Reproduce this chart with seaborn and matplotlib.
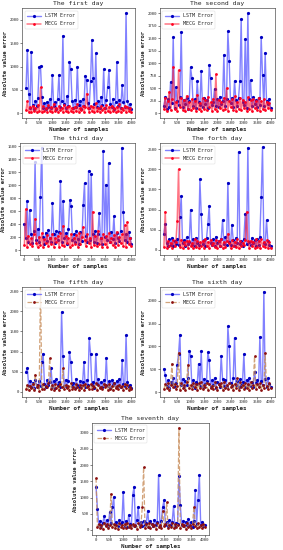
"""Erreurs absolues LSTM vs MECG sur sept jours."""
import matplotlib
matplotlib.use("Agg")
import matplotlib.pyplot as plt
import seaborn as sns
import pandas as pd

sns.set_style("ticks")
plt.rcParams["font.family"] = ["DejaVu Sans Mono", "DejaVu Sans"]

SAMPLES = list(range(0, 4001, 50))
TITLES = ["The first day", "The second day", "The third day", "The forth day",
          "The fifth day", "The sixth day", "The seventh day"]

lstm_d1 = [530, 1360, 420, 120, 1320, 180, 90, 260, 150, 330,
           990, 1010, 350, 120, 210, 80, 240, 130, 300, 110,
           820, 160, 240, 90, 310, 820, 140, 260, 1660, 200,
           120, 360, 150, 1100, 940, 260, 100, 290, 140, 990,
           180, 250, 90, 300, 160, 800, 700, 210, 120, 680,
           1570, 750, 190, 1280, 140, 260, 100, 350, 180, 940,
           120, 280, 550, 920, 200, 130, 310, 90, 240, 1100,
           160, 280, 110, 600, 230, 140, 2140, 260, 120, 200, 90]
mecg_d1 = [60, 250, 30, 140, 20, 160, 40, 120, 30, 180,
           50, 550, 20, 150, 40, 110, 30, 170, 50, 130,
           20, 200, 40, 120, 30, 150, 60, 110, 20, 180,
           40, 130, 30, 160, 50, 120, 20, 140, 40, 190,
           30, 110, 60, 150, 20, 130, 420, 120, 30, 160,
           50, 140, 20, 210, 40, 120, 30, 150, 60, 110,
           20, 170, 40, 130, 30, 160, 50, 120, 20, 140,
           40, 190, 30, 110, 60, 150, 20, 130, 40, 120, 30]

lstm_d2 = [150, 320, 90, 280, 130, 630, 200, 1520, 110, 520,
           240, 160, 330, 1620, 120, 260, 180, 300, 90, 240,
           920, 700, 150, 280, 110, 640, 230, 170, 840, 120,
           300, 190, 260, 110, 970, 700, 160, 230, 490, 140,
           280, 120, 330, 180, 250, 1170, 150, 290, 1640, 1050,
           200, 310, 120, 650, 260, 140, 300, 650, 1880, 230,
           170, 1480, 110, 2000, 280, 660, 150, 320, 190, 260,
           120, 300, 170, 1520, 760, 140, 1210, 250, 180, 290, 110]
mecg_d2 = [80, 310, 40, 250, 430, 60, 280, 920, 90, 230,
           50, 860, 120, 300, 70, 260, 40, 350, 90, 220,
           60, 280, 110, 240, 50, 370, 80, 210, 40, 300,
           90, 260, 60, 330, 120, 220, 50, 290, 80, 780,
           40, 270, 100, 230, 60, 310, 90, 500, 50, 250,
           120, 280, 70, 340, 40, 230, 90, 300, 60, 270,
           110, 220, 50, 320, 80, 260, 40, 290, 100, 240,
           70, 310, 50, 250, 90, 280, 60, 230, 110, 200, 60]

lstm_d3 = [400, 180, 760, 130, 610, 240, 110, 290, 1360, 150,
           320, 120, 820, 1580, 200, 90, 270, 140, 310, 180,
           130, 720, 240, 110, 300, 160, 280, 1060, 120, 750,
           190, 260, 100, 330, 770, 680, 150, 240, 120, 300,
           170, 90, 280, 140, 690, 1030, 210, 120, 1220, 160,
           1170, 250, 130, 300, 110, 240, 570, 180, 90, 1520,
           200, 1010, 150, 1340, 120, 280, 170, 520, 110, 260,
           190, 140, 300, 1580, 590, 160, 240, 120, 280, 190, 100]
mecg_d3 = [70, 630, 40, 220, 90, 180, 60, 250, 480, 110,
           40, 200, 80, 260, 50, 170, 110, 230, 60, 190,
           90, 240, 50, 180, 120, 210, 40, 260, 80, 370,
           60, 220, 110, 190, 40, 250, 70, 180, 100, 230,
           50, 270, 90, 200, 350, 160, 60, 240, 110, 190,
           40, 590, 80, 220, 60, 300, 100, 180, 50, 240,
           90, 210, 40, 260, 120, 190, 70, 230, 50, 280,
           80, 200, 110, 240, 60, 380, 40, 430, 90, 190, 60]

lstm_d4 = [400, 650, 180, 110, 260, 130, 300, 90, 220, 150,
           280, 120, 820, 1330, 160, 240, 100, 310, 140, 200,
           1000, 130, 260, 90, 300, 170, 120, 1750, 900, 150,
           240, 110, 290, 650, 1100, 180, 130, 270, 100, 330,
           160, 220, 90, 280, 740, 140, 310, 120, 1670, 200,
           130, 630, 250, 110, 290, 170, 2430, 150, 220, 100,
           280, 900, 140, 2530, 190, 120, 300, 160, 240, 110,
           270, 130, 320, 1300, 2550, 180, 140, 740, 210, 120, 90]
mecg_d4 = [80, 950, 50, 220, 110, 180, 60, 240, 90, 200,
           720, 2000, 70, 250, 40, 190, 120, 230, 60, 210,
           100, 170, 50, 260, 80, 220, 40, 190, 110, 230,
           60, 280, 90, 200, 50, 250, 120, 180, 70, 240,
           40, 210, 100, 260, 60, 190, 80, 230, 400, 170,
           50, 240, 110, 200, 70, 260, 40, 220, 90, 180,
           120, 250, 940, 210, 60, 230, 100, 190, 50, 270,
           80, 220, 40, 260, 110, 190, 70, 240, 60, 200, 50]

lstm_d5 = [500, 590, 150, 280, 110, 230, 90, 300, 170, 120,
           260, 140, 750, 950, 200, 110, 290, 160, 240, 600,
           130, 270, 100, 320, 180, 240, 120, 1980, 880, 150,
           300, 110, 260, 1000, 750, 140, 220, 100, 330, 170,
           120, 280, 150, 240, 750, 110, 300, 180, 1330, 950,
           160, 250, 100, 930, 190, 310, 130, 240, 110, 290,
           170, 850, 140, 260, 100, 300, 180, 230, 120, 270,
           150, 320, 110, 780, 200, 140, 1400, 250, 130, 180, 90]
mecg_d5 = [60, 180, 40, 150, 90, 200, 50, 430, 120, 170,
           30, 2700, 80, 190, 60, 140, 110, 210, 840, 70,
           160, 50, 190, 90, 140, 40, 200, 120, 580, 60,
           170, 100, 150, 40, 210, 80, 130, 60, 190, 110,
           50, 180, 90, 160, 40, 200, 120, 140, 70, 190,
           60, 150, 110, 210, 40, 170, 90, 130, 60, 200,
           120, 160, 50, 190, 80, 140, 40, 210, 100, 150,
           60, 180, 110, 140, 50, 200, 90, 170, 40, 130, 70]

lstm_d6 = [510, 380, 140, 260, 100, 230, 170, 300, 120, 190,
           600, 830, 1260, 150, 280, 110, 240, 160, 300, 900,
           800, 130, 260, 100, 220, 170, 620, 140, 900, 110,
           290, 180, 240, 870, 700, 120, 260, 150, 310, 100,
           230, 170, 120, 800, 280, 140, 260, 110, 1440, 1000,
           200, 130, 300, 1190, 160, 240, 110, 280, 150, 220,
           830, 120, 270, 160, 300, 140, 230, 110, 450, 190,
           260, 130, 1210, 240, 150, 2200, 280, 120, 300, 170, 110]
mecg_d6 = [60, 170, 90, 200, 40, 150, 620, 110, 180, 70,
           140, 860, 50, 190, 100, 160, 40, 210, 600, 80,
           150, 60, 200, 110, 170, 40, 190, 90, 230, 60,
           160, 120, 200, 50, 180, 90, 140, 60, 210, 110,
           50, 170, 130, 190, 40, 220, 80, 150, 60, 200,
           110, 160, 50, 180, 90, 300, 40, 210, 120, 150,
           60, 190, 100, 170, 40, 220, 80, 150, 780, 60,
           180, 110, 200, 50, 160, 90, 860, 140, 60, 190, 80]

lstm_d7 = [1340, 650, 150, 280, 100, 230, 430, 160, 300, 120,
           550, 210, 700, 1020, 140, 260, 110, 300, 170, 240,
           1180, 130, 280, 100, 460, 190, 150, 1090, 1340, 120,
           300, 700, 160, 240, 110, 290, 140, 230, 600, 100,
           270, 170, 130, 310, 150, 240, 1690, 120, 280, 700,
           920, 160, 240, 110, 300, 140, 260, 730, 120, 230,
           170, 1660, 780, 140, 290, 110, 250, 160, 330, 130,
           240, 100, 270, 1220, 180, 920, 1700, 140, 260, 120, 160]
mecg_d7 = [1600, 90, 180, 60, 150, 40, 200, 110, 170, 50,
           140, 1110, 80, 190, 60, 160, 40, 210, 100, 150,
           70, 180, 50, 220, 90, 140, 60, 190, 110, 160,
           40, 200, 80, 150, 700, 1950, 60, 170, 100, 210,
           50, 180, 120, 140, 40, 200, 90, 160, 60, 580,
           130, 190, 850, 70, 150, 100, 210, 50, 170, 80,
           140, 3150, 60, 190, 110, 160, 40, 200, 90, 150,
           70, 180, 720, 120, 60, 210, 100, 140, 50, 190, 80]

LSTM = [lstm_d1, lstm_d2, lstm_d3, lstm_d4, lstm_d5, lstm_d6, lstm_d7]
MECG = [mecg_d1, mecg_d2, mecg_d3, mecg_d4, mecg_d5, mecg_d6, mecg_d7]
YTICKS = [range(0, 2001, 500), range(0, 2001, 250), range(0, 1601, 200),
          range(0, 2501, 500), range(0, 2501, 500), range(0, 2001, 500),
          range(0, 3001, 500)]
YLIMS = [(-110, 2250), (-100, 2100), (-80, 1650), (-130, 2650),
         (-130, 2600), (-110, 2300), (-160, 3300)]

# positions des axes (en fraction de la figure)
POS = [(0.078, 0.785, 0.40, 0.20), (0.565, 0.785, 0.405, 0.20),
       (0.072, 0.536, 0.406, 0.204), (0.565, 0.536, 0.405, 0.204),
       (0.078, 0.278, 0.40, 0.20), (0.565, 0.278, 0.405, 0.20),
       (0.325, 0.027, 0.413, 0.204)]


def main():
    fig = plt.figure(figsize=(2.83, 5.5), dpi=100)
    for k in range(7):
        ax = fig.add_axes(POS[k])
        df = pd.DataFrame({"sample": SAMPLES * 2,
                           "err": LSTM[k] + MECG[k],
                           "model": ["LSTM Error"] * 81 + ["MECG Error"] * 81})
        sns.lineplot(data=df[df.model == "LSTM Error"], x="sample", y="err",
                     estimator=None, sort=False, ax=ax, color="blue",
                     marker="o", markersize=2.3, linewidth=1.0,
                     markeredgewidth=0, label="LSTM Error")
        ln = ax.lines[-1]
        ln.set_color((0.1, 0.1, 1, 0.55))
        ln.set_markerfacecolor("#0000c0")
        if k < 4:
            sns.lineplot(data=df[df.model == "MECG Error"], x="sample", y="err",
                         estimator=None, sort=False, ax=ax, color="red",
                         marker="o", markersize=2.0, linewidth=1.1,
                         markeredgewidth=0, label="MECG Error")
            ln = ax.lines[-1]
            ln.set_color((1, 0.1, 0.2, 0.6))
            ln.set_markerfacecolor("#ff0020")
        else:
            sns.lineplot(data=df[df.model == "MECG Error"], x="sample", y="err",
                         estimator=None, sort=False, ax=ax, color="tan",
                         marker="o", markersize=2.0, linewidth=0.9,
                         markeredgewidth=0, linestyle="--", label="MECG Error")
            ln = ax.lines[-1]
            ln.set_color((0.78, 0.55, 0.35, 0.8))
            ln.set_markerfacecolor("#8c1010")
        ax.set_xlim(-150, 4150)
        ax.set_ylim(*YLIMS[k])
        ax.set_xticks(range(0, 4001, 500))
        ax.set_yticks(list(YTICKS[k]))
        ax.tick_params(labelsize=2.8, length=1.2, width=0.4, pad=1)
        for s in ax.spines.values():
            s.set_linewidth(0.4)
        ax.set_title(TITLES[k], fontsize=4.6, pad=2)
        ax.set_xlabel("Number of samples", fontsize=4.2, fontweight="bold", labelpad=1)
        ax.set_ylabel("Absolute value error", fontsize=4.0, fontweight="bold", labelpad=1)
        leg = ax.legend(loc="upper left", fontsize=3.6, frameon=True,
                        handlelength=2.8, borderpad=0.5, labelspacing=0.6,
                        handletextpad=0.8)
        leg.get_frame().set_linewidth(0.3)
    fig.savefig("out.png", dpi=100)
    plt.close(fig)


if __name__ == "__main__":
    main()
